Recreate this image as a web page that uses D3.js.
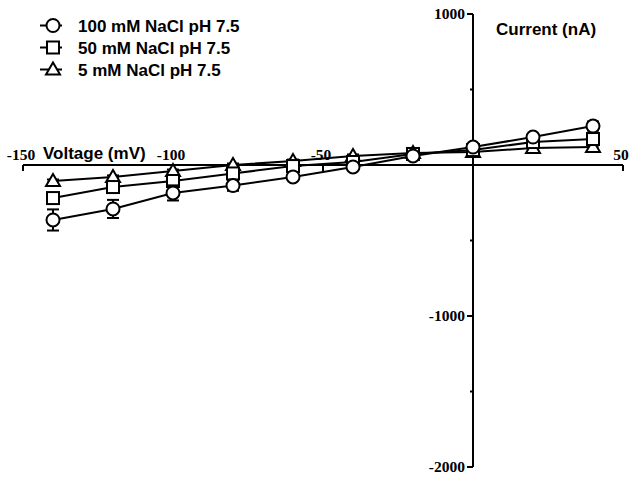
<!DOCTYPE html>
<html>
<head>
<meta charset="utf-8">
<script src="https://cdn.jsdelivr.net/npm/d3@7.9.0/dist/d3.min.js"></script>
<style>
  body { margin: 0; background: #fff; }
  svg { display: block; }
  .tick-label { font-family: "Liberation Serif", "DejaVu Serif", serif; font-weight: bold; font-size: 15.5px; }
  .title { font-family: "Liberation Sans", Arial, sans-serif; font-weight: bold; font-size: 17px; }
</style>
</head>
<body>
<svg id="chart" width="633" height="482"></svg>
<script>
// voltage steps (mV)
const voltages = [-140, -120, -100, -80, -60, -40, -20, 0, 20, 40];

// mean currents (nA)
const nacl100 = [-364, -291, -185, -136, -79, -13, 60, 119, 185, 258];
const nacl50 = [-219, -146, -106, -56, -7, 20, 73, 99, 152, 172];
const nacl5 = [-106, -79, -40, 0, 26, 60, 80, 86, 113, 119];

// error bars (nA)
const err100 = [70, 60, 50, 35, 20, 15, 15, 15, 20, 30];
const err50 = [30, 25, 20, 15, 15, 10, 10, 10, 15, 20];
const err5 = [10, 10, 10, 10, 10, 10, 10, 10, 10, 10];

const xTicks = [-150, -100, -50, 50];
const yTicks = [1000, -1000, -2000];
const yMinor = [500, -500, -1500];

const seriesNames = ['100 mM NaCl pH 7.5', '50 mM NaCl pH 7.5', '5 mM NaCl pH 7.5'];
const seriesSymbols = ['circle', 'square', 'triangle'];

const svg = d3.select('#chart');

const x = d3.scaleLinear().domain([-150, 50]).range([23, 623]);
const y = d3.scaleLinear().domain([-2000, 1000]).range([467, 14]);

const x0 = x(0), y0 = y(0);

// x axis (through y = 0)
svg.append('line')
  .attr('x1', x(-150)).attr('x2', x(50))
  .attr('y1', y0).attr('y2', y0)
  .attr('stroke', '#000').attr('stroke-width', 2);

xTicks.forEach(t => {
  svg.append('line')
    .attr('x1', x(t)).attr('x2', x(t))
    .attr('y1', y0).attr('y2', y0 + 6)
    .attr('stroke', '#000').attr('stroke-width', 2);
  svg.append('text')
    .attr('class', 'tick-label')
    .attr('x', x(t) - 2).attr('y', y0 - 5)
    .attr('text-anchor', 'middle')
    .text(t);
});

// y axis (through x = 0)
svg.append('line')
  .attr('x1', x0).attr('x2', x0)
  .attr('y1', y(1000)).attr('y2', y(-2000))
  .attr('stroke', '#000').attr('stroke-width', 2);

yTicks.forEach(t => {
  svg.append('line')
    .attr('x1', x0 - 6).attr('x2', x0)
    .attr('y1', y(t)).attr('y2', y(t))
    .attr('stroke', '#000').attr('stroke-width', 2);
  svg.append('text')
    .attr('class', 'tick-label')
    .attr('x', x0 - 8).attr('y', y(t) + 5)
    .attr('text-anchor', 'end')
    .text(t);
});
yMinor.forEach(t => {
  svg.append('line')
    .attr('x1', x0 - 3).attr('x2', x0)
    .attr('y1', y(t)).attr('y2', y(t))
    .attr('stroke', '#000').attr('stroke-width', 2);
});

// axis titles
svg.append('text').attr('class', 'title')
  .attr('x', 43).attr('y', 159).text('Voltage (mV)');
svg.append('text').attr('class', 'title')
  .attr('x', 496).attr('y', 35).text('Current (nA)');

function drawSymbol(g, kind, cx, cy) {
  if (kind === 'circle') {
    g.append('circle').attr('cx', cx).attr('cy', cy).attr('r', 6.5)
      .attr('fill', '#fff').attr('stroke', '#000').attr('stroke-width', 2);
  } else if (kind === 'square') {
    g.append('rect').attr('x', cx - 6).attr('y', cy - 6)
      .attr('width', 12).attr('height', 12)
      .attr('fill', '#fff').attr('stroke', '#000').attr('stroke-width', 2);
  } else {
    g.append('path')
      .attr('d', `M${cx},${cy - 7}L${cx + 7},${cy + 5}L${cx - 7},${cy + 5}Z`)
      .attr('fill', '#fff').attr('stroke', '#000').attr('stroke-width', 2);
  }
}

const allSeries = [
  { values: nacl100, errs: err100, sym: 'circle' },
  { values: nacl50, errs: err50, sym: 'square' },
  { values: nacl5, errs: err5, sym: 'triangle' }
];

const line = d3.line().x(d => x(d[0])).y(d => y(d[1]));

// lines first, then error bars and symbols on top
const order = [2, 1, 0];
order.forEach(i => {
  const s = allSeries[i];
  const pts = voltages.map((v, j) => [v, s.values[j]]);
  svg.append('path')
    .attr('d', line(pts))
    .attr('fill', 'none')
    .attr('stroke', '#000').attr('stroke-width', 2);
});

order.forEach(i => {
  const s = allSeries[i];
  const g = svg.append('g');
  voltages.forEach((v, j) => {
    const cx = x(v);
    const top = y(s.values[j] + s.errs[j]);
    const bot = y(s.values[j] - s.errs[j]);
    g.append('line').attr('x1', cx).attr('x2', cx).attr('y1', top).attr('y2', bot)
      .attr('stroke', '#000').attr('stroke-width', 2);
    [top, bot].forEach(yy => {
      g.append('line').attr('x1', cx - 6).attr('x2', cx + 6).attr('y1', yy).attr('y2', yy)
        .attr('stroke', '#000').attr('stroke-width', 2);
    });
  });
  voltages.forEach((v, j) => drawSymbol(g, s.sym, x(v), y(s.values[j])));
});

// legend
const legend = svg.append('g');
seriesNames.forEach((name, i) => {
  const ly = 25.5 + i * 22;
  legend.append('line').attr('x1', 40).attr('x2', 62).attr('y1', ly).attr('y2', ly)
    .attr('stroke', '#000').attr('stroke-width', 2);
  drawSymbol(legend, seriesSymbols[i], 53, ly);
  legend.append('text').attr('class', 'title')
    .attr('x', 78).attr('y', ly + 6).text(name);
});
</script>
</body>
</html>
